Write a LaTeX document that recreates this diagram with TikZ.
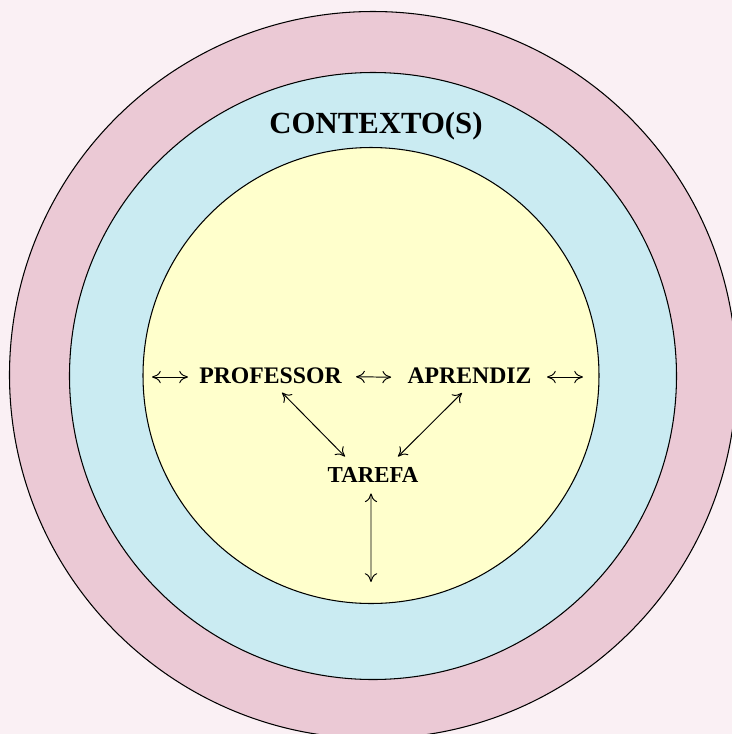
\documentclass[tikz,border=0pt]{standalone}
\usepackage{fontspec}
\setmainfont{Liberation Serif}
\usepackage{xcolor}
\usetikzlibrary{arrows.meta}

\definecolor{bgpink}{HTML}{FAF0F4}
\definecolor{ringpink}{HTML}{EBC9D5}
\definecolor{ringblue}{HTML}{CAEBF2}
\definecolor{coreyellow}{HTML}{FFFFCC}

\begin{document}
\begin{tikzpicture}[x=1cm,y=1cm,
  label/.style={inner sep=0pt,anchor=base,font=\fontsize{13.5}{16}\selectfont\bfseries},
  twoway/.style={{To[length=5pt,width=7pt]}-{To[length=5pt,width=7pt]},line width=0.55pt}]
\fill[bgpink] (0,0) rectangle (14.64,-14.68);
\useasboundingbox (0,0) rectangle (14.64,-14.68);
\clip (0,0) rectangle (14.64,-14.68);
% the three circles
\fill[ringpink] (7.46,-7.50) circle (7.27);
\draw[line width=0.6pt] (7.46,-7.50) circle (7.27);
\fill[ringblue] (7.46,-7.52) circle (6.07);
\draw[line width=0.6pt] (7.46,-7.52) circle (6.07);
\fill[coreyellow] (7.42,-7.51) circle (4.56);
\draw[line width=0.6pt] (7.42,-7.51) circle (4.56);
% labels
\node[label,font=\fontsize{17.5}{21}\selectfont\bfseries] (ctx) at (7.52,-2.66) {CONTEXTO(S)};
\node[label] (prof) at (5.41,-7.66) {PROFESSOR};
\node[label] (apr) at (9.39,-7.67) {APRENDIZ};
\node[label,font=\fontsize{13}{16}\selectfont\bfseries] (taref) at (7.46,-9.64) {TAREFA};
% free ends
\coordinate (lefta) at (3.04,-7.54);
\coordinate (leftb) at (3.76,-7.54);
\coordinate (righta) at (10.94,-7.54);
\coordinate (rightb) at (11.66,-7.54);
\coordinate (down) at (7.42,-11.64);
% arrows
\draw[twoway] (lefta) -- (leftb);
\draw[twoway] (righta) -- (rightb);
\draw[twoway] ([xshift=0.28cm,yshift=-0.03cm]prof.east) -- ([xshift=-0.32cm,yshift=-0.03cm]apr.west);
\draw[twoway] ([xshift=0.23cm,yshift=-0.18cm]prof.south) -- ([xshift=-0.56cm,yshift=0.2cm]taref.north);
\draw[twoway] ([xshift=-0.15cm,yshift=-0.18cm]apr.south) -- ([xshift=0.5cm,yshift=0.2cm]taref.north);
\draw[twoway] ([xshift=-0.04cm,yshift=-0.22cm]taref.south) -- (down);
\end{tikzpicture}
\end{document}
